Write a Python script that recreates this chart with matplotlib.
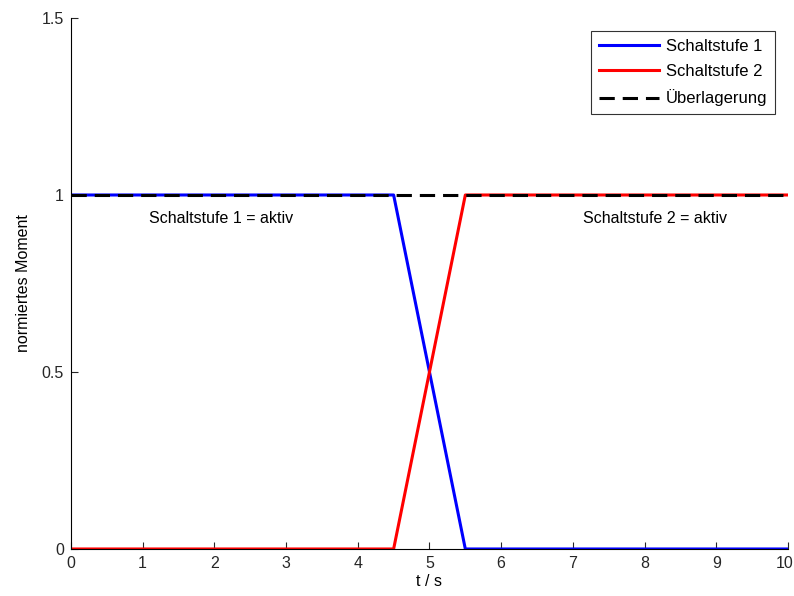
import matplotlib
matplotlib.use("Agg")
import matplotlib.pyplot as plt
import matplotlib.transforms as mtransforms

plt.rcParams['font.family'] = ['Liberation Sans', 'DejaVu Sans']
plt.rcParams['font.size'] = 11

t = [0, 4.5, 5.5, 10]
stufe1 = [1, 1, 0, 0]
stufe2 = [0, 0, 1, 1]
ueber = [1, 1, 1, 1]

fig = plt.figure(figsize=(7.94, 5.96), dpi=100)
ax = fig.add_axes([0.0894, 0.0789, 0.9030, 0.8909])

ax.plot(t, stufe1, color='#0000ff', lw=2.2, label='Schaltstufe 1')
ax.plot(t, stufe2, color='#ff0000', lw=2.2, label='Schaltstufe 2')
ax.plot(t, ueber, color='black', lw=2.2, ls=(0, (5, 2.6)), label='Überlagerung')

ax.text(2.1, 0.935, 'Schaltstufe 1 = aktiv', ha='center', va='center', fontsize=11.5)
ax.text(8.15, 0.935, 'Schaltstufe 2 = aktiv', ha='center', va='center', fontsize=11.5)

ax.set_xlim(0, 10)
ax.set_ylim(0, 1.5)
ax.set_xticks(range(0, 11))
ax.set_yticks([0, 0.5, 1, 1.5])
ax.set_yticklabels(['0', '0.5', '1', '1.5'])
ax.set_xlabel('t / s', labelpad=2, fontsize=11.5)
ax.set_ylabel('normiertes Moment', labelpad=8, fontsize=11.5)
ax.spines['top'].set_visible(False)
ax.spines['right'].set_visible(False)
ax.tick_params(direction='in', length=5, colors='#262626', labelsize=11.5, pad=5)

# keep the last x label inside the figure
last = ax.get_xticklabels()[-1]
last.set_transform(last.get_transform() +
                   mtransforms.ScaledTranslation(-3 / 100, 0, fig.dpi_scale_trans))

leg = ax.legend(loc='upper right', fancybox=False, edgecolor='black', fontsize=12,
                handlelength=3.6, labelspacing=0.62, handletextpad=0.4,
                borderaxespad=0.8, borderpad=0.45)
leg.get_frame().set_linewidth(0.8)

fig.savefig('out.png', dpi=100)
